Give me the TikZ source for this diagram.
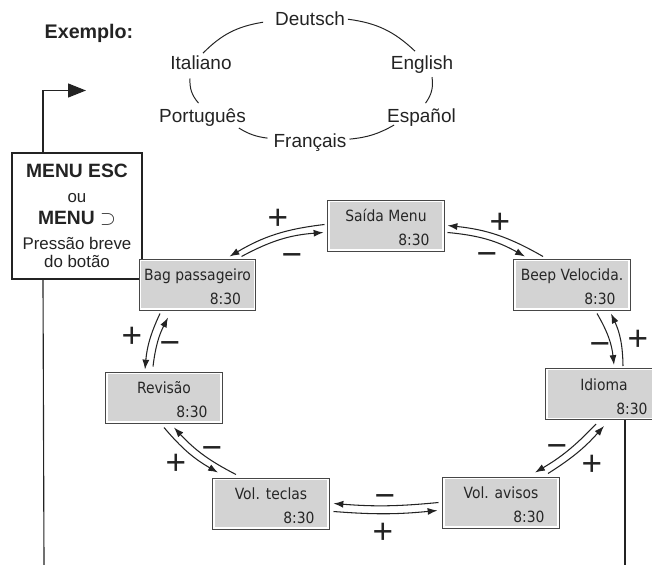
\documentclass[tikz,border=0pt]{standalone}
\usepackage{fontspec}
\setmainfont{Liberation Sans}
\newfontfamily\lcdfont{DejaVu Sans Condensed}
\usetikzlibrary{positioning,arrows.meta,calc}

\definecolor{lcdgray}{RGB}{211,211,211}
\definecolor{lcdframe}{RGB}{70,70,70}
\definecolor{ink}{RGB}{35,35,35}

\newcommand{\lcdlines}[1]{\makebox[62pt]{\rule{0pt}{12pt}#1}\\\makebox[62pt][r]{8:30}}

\begin{document}
\begin{tikzpicture}[
  x=0.025cm, y=-0.025cm,
  every node/.style={text=ink},
  lang/.style={anchor=base,font=\fontsize{13.5}{16}\selectfont,inner sep=2pt},
  arc/.style={draw=ink,line width=0.7pt},
  menubox/.style={draw=ink,line width=1.4pt,fill=white,align=center,minimum width=3.25cm,minimum height=3.15cm,inner sep=0pt,font=\fontsize{12}{13}\selectfont},
  menuline/.style={draw=ink,line width=0.8pt},
  lcd/.style={draw=lcdframe,line width=0.7pt,fill=white,minimum width=2.9cm,minimum height=1.275cm,inner sep=0pt,align=left,
    font=\lcdfont\fontsize{11}{17}\selectfont,text=black!85,
    path picture={\fill[lcdgray] ([shift={(1.3pt,-1.3pt)}]path picture bounding box.north west) rectangle ([shift={(-1.3pt,1.3pt)}]path picture bounding box.south east);}},
  flow/.style={draw=ink,line width=0.75pt,-{Latex[length=7pt,width=5pt]}},
  sign/.style={font=\fontsize{25}{25}\selectfont,inner sep=0pt,text height=17.6pt,text depth=0pt}
]
  \useasboundingbox (0,0) rectangle (652,565);

  % language ring
  \node[lang,font=\bfseries\fontsize{14}{16}\selectfont] (exemplo) at (89,39) {Exemplo:};
  \node[lang] (deutsch) at (310,26) {Deutsch};
  \node[lang] (italiano) at (201,70) {Italiano};
  \node[lang] (english) at (422,70) {English};
  \node[lang] (portugues) at (202.5,123) {Português};
  \node[lang] (espanol) at (421.5,122) {Español};
  \node[lang] (francais) at (310,147) {Français};
  \draw[arc] (deutsch.east) to[bend left=18] ([shift={(-7,-2)}]english.north);
  \draw[arc] ([shift={(2,0)}]italiano.north) to[bend left=18] ([shift={(-9,3)}]deutsch.west);
  \draw[arc] ([shift={(-11,5)}]italiano.south) to[bend right=22] ([shift={(-4,-3)}]portugues.north);
  \draw[arc] ([shift={(10,0)}]english.south) to[bend left=22] ([shift={(4,-2)}]espanol.north);
  \draw[arc] ([shift={(-10,-2)}]portugues.south east) to[bend right=12] ([shift={(-3,-4)}]francais.west);
  \draw[arc] ([shift={(0,-3)}]francais.east) to[bend right=12] ([shift={(10,-4)}]espanol.south west);

  % exit key
  \node[menubox] (menu) at (77,216) {{\fontsize{13.7}{13}\selectfont\bfseries MENU ESC}\\[4.8pt]
    ou\\[2.6pt]
    {\fontsize{13.7}{13}\selectfont\bfseries MENU $\supset$}\\[4.8pt]
    Pressão breve\\
    do botão};
  \coordinate (menutip) at (86,90.5);
  \coordinate (leftend) at (44,565);
  \draw[menuline,-{Triangle[length=12.8pt,width=10pt]}] ([shift={(32,0)}]menu.north west) |- (menutip);
  \draw[menuline] ([shift={(32,0)}]menu.south west) -- (leftend);

  % menu displays
  \node[lcd] (saida) at (386,225.5) {\lcdlines{Saída Menu}};
  \node[lcd] (beep) at (572,284.5) {\lcdlines{Beep Velocida.}};
  \node[lcd] (idioma) at (604,394) {\lcdlines{Idioma}};
  \node[lcd] (avisos) at (501,502.5) {\lcdlines{Vol. avisos}};
  \node[lcd] (teclas) at (271,503.5) {\lcdlines{Vol. teclas}};
  \node[lcd] (revisao) at (164,397.5) {\lcdlines{Revisão}};
  \node[lcd] (bag) at (197.5,284.5) {\lcdlines{Bag passageiro}};
  \coordinate (rightend) at (625,565);
  \draw[menuline] ([shift={(21,0)}]idioma.south) -- (rightend);

  % + goes back, - goes on
  \draw[flow] ([shift={(-3,-1)}]saida.west) to[bend right=12] ([shift={(32,-2)}]bag.north);
  \draw[flow] ([shift={(44,-2)}]bag.north) to[bend left=12] ([shift={(-4,7)}]saida.west);
  \draw[flow] ([shift={(-29,-2)}]beep.north) to[bend right=12] ([shift={(3,0)}]saida.east);
  \draw[flow] ([shift={(3,7)}]saida.east) to[bend left=12] ([shift={(-47,-2)}]beep.north);
  \draw[flow] ([shift={(25,3)}]beep.south) to[bend left=12] ([shift={(10,-3)}]idioma.north);
  \draw[flow] ([shift={(19,-2)}]idioma.north) to[bend right=12] ([shift={(39,3)}]beep.south);
  \draw[flow] ([shift={(-8,4)}]idioma.south) to[bend left=8] ([shift={(34,-4)}]avisos.north);
  \draw[flow] ([shift={(47,-3)}]avisos.north) to[bend right=8] ([shift={(0,6)}]idioma.south);
  \draw[flow] ([shift={(-4,0)}]avisos.west) to[bend left=5] ([shift={(4,0)}]teclas.east);
  \draw[flow] ([shift={(4,8)}]teclas.east) to[bend right=5] ([shift={(-5,8)}]avisos.west);
  \draw[flow] ([shift={(0,4)}]revisao.south) to[bend right=10] ([shift={(-53,-5)}]teclas.north);
  \draw[flow] ([shift={(-35,-3)}]teclas.north) to[bend left=10] ([shift={(10,4)}]revisao.south);
  \draw[flow] ([shift={(-37.5,3)}]bag.south) to[bend right=10] ([shift={(-19,-2)}]revisao.north);
  \draw[flow] ([shift={(-11,-5)}]revisao.north) to[bend left=10] ([shift={(-29.5,7)}]bag.south);

  \node[sign] (plus1) at (278,217) {+};
  \node[sign] (minus1) at (292,254) {−};
  \node[sign] (plus2) at (500,221) {+};
  \node[sign] (minus2) at (487,253) {−};
  \node[sign] (minus3) at (600,343) {−};
  \node[sign] (plus3) at (638,338) {+};
  \node[sign] (minus4) at (557,445) {−};
  \node[sign] (plus4) at (592,463) {+};
  \node[sign] (minus5) at (385,495) {−};
  \node[sign] (plus5) at (383,531) {+};
  \node[sign] (plus6) at (176,462) {+};
  \node[sign] (minus6) at (212,447) {−};
  \node[sign] (plus7) at (132,335) {+};
  \node[sign] (minus7) at (170,342) {−};
\end{tikzpicture}
\end{document}
